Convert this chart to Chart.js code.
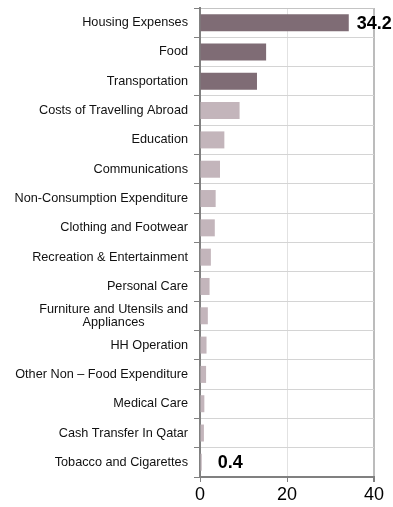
<!DOCTYPE html>
<html>
<head>
<meta charset="utf-8">
<script src="https://cdn.jsdelivr.net/npm/chart.js@4.4.0/dist/chart.umd.min.js"></script>
<style>
  html, body { margin: 0; padding: 0; background: #fff; }
  #wrap { width: 393px; height: 507px; }
</style>
</head>
<body>
<div id="wrap"><canvas id="chart"></canvas></div>
<script>
// Spending categories, largest first
const categories = [
    'Housing Expenses',
    'Food',
    'Transportation',
    'Costs of Travelling Abroad',
    'Education',
    'Communications',
    'Non-Consumption Expenditure',
    'Clothing and Footwear',
    'Recreation & Entertainment',
    'Personal Care',
    ['Furniture and Utensils and', 'Appliances'],
    'HH Operation',
    'Other Non \u2013 Food Expenditure',
    'Medical Care',
    'Cash Transfer In Qatar',
    'Tobacco and Cigarettes'
];

// Share of expenditure (%)
const shares = [34.2, 15.2, 13.1, 9.1, 5.6, 4.6, 3.6, 3.4, 2.5, 2.2, 1.8, 1.5, 1.4, 1.0, 0.9, 0.4];

// Only the top and bottom values get a label
const labelledIndexes = [0, 15];

const xTicks = [0, 20, 40];

const DARK = '#7f6c75';
const LIGHT = '#c3b5bb';
const AXIS = '#808080';
const FONT = '"Liberation Sans", Arial, sans-serif';

// Category labels: right-aligned block, multi-line labels centred within it
const categoryLabels = {
    id: 'categoryLabels',
    afterDraw(chart) {
        const { ctx } = chart;
        const y = chart.scales.y;
        const right = chart.chartArea.left - 12;
        const lineH = 13.5;
        ctx.save();
        ctx.font = '12.7px ' + FONT;
        ctx.fillStyle = '#111';
        ctx.textBaseline = 'middle';
        categories.forEach((label, i) => {
            const cy = y.getPixelForTick(i);
            if (Array.isArray(label)) {
                const w = Math.max(...label.map(l => ctx.measureText(l).width));
                ctx.textAlign = 'center';
                label.forEach((line, k) => {
                    ctx.fillText(line, right - w / 2, cy + (k - (label.length - 1) / 2) * lineH);
                });
            } else {
                ctx.textAlign = 'right';
                ctx.fillText(label, right, cy);
            }
        });
        ctx.restore();
    }
};

// Bold value labels next to bars
const valueLabels = {
    id: 'valueLabels',
    afterDatasetsDraw(chart) {
        const { ctx } = chart;
        const meta = chart.getDatasetMeta(0);
        const gap = { 0: 8, 15: 16 };
        ctx.save();
        ctx.font = 'bold 18px ' + FONT;
        ctx.fillStyle = '#000';
        ctx.textAlign = 'left';
        ctx.textBaseline = 'middle';
        labelledIndexes.forEach(i => {
            const bar = meta.data[i];
            ctx.fillText(shares[i].toFixed(1), bar.x + gap[i], bar.y + 1);
        });
        ctx.restore();
    }
};

new Chart(document.getElementById('chart'), {
    type: 'bar',
    data: {
        labels: categories,
        datasets: [{
            data: shares,
            backgroundColor: shares.map((_, i) => i < 3 ? DARK : LIGHT),
            borderWidth: 0,
            barPercentage: 0.58,
            categoryPercentage: 1
        }]
    },
    options: {
        indexAxis: 'y',
        responsive: true,
        maintainAspectRatio: false,
        animation: false,
        layout: { padding: { top: 8, right: 19, left: 0, bottom: 0 } },
        plugins: { legend: { display: false }, tooltip: { enabled: false } },
        scales: {
            x: {
                min: 0,
                max: 40,
                afterBuildTicks: (scale) => { scale.ticks = xTicks.map(v => ({ value: v })); },
                afterFit: (scale) => { scale.height = 30; },
                grid: {
                    color: (c) => c.tick && c.tick.value === 40 ? '#bcbcbc' : (c.tick && c.tick.value === 20 ? '#e2e2e2' : 'rgba(0,0,0,0)'),
                    lineWidth: (c) => c.tick && c.tick.value === 40 ? 2 : 1,
                    tickColor: AXIS,
                    tickLength: 5
                },
                border: { color: AXIS, width: 2 },
                ticks: {
                    color: '#000',
                    font: { family: FONT, size: 18 },
                    padding: 2
                }
            },
            y: {
                afterFit: (scale) => { scale.width = 200; },
                grid: {
                    color: (c) => c.index === 0 ? '#c4c4c4' : '#d4d4d4',
                    lineWidth: 1,
                    tickColor: AXIS,
                    tickLength: 6
                },
                border: { color: AXIS, width: 2 },
                ticks: { display: false }
            }
        }
    },
    plugins: [categoryLabels, valueLabels]
});
</script>
</body>
</html>
